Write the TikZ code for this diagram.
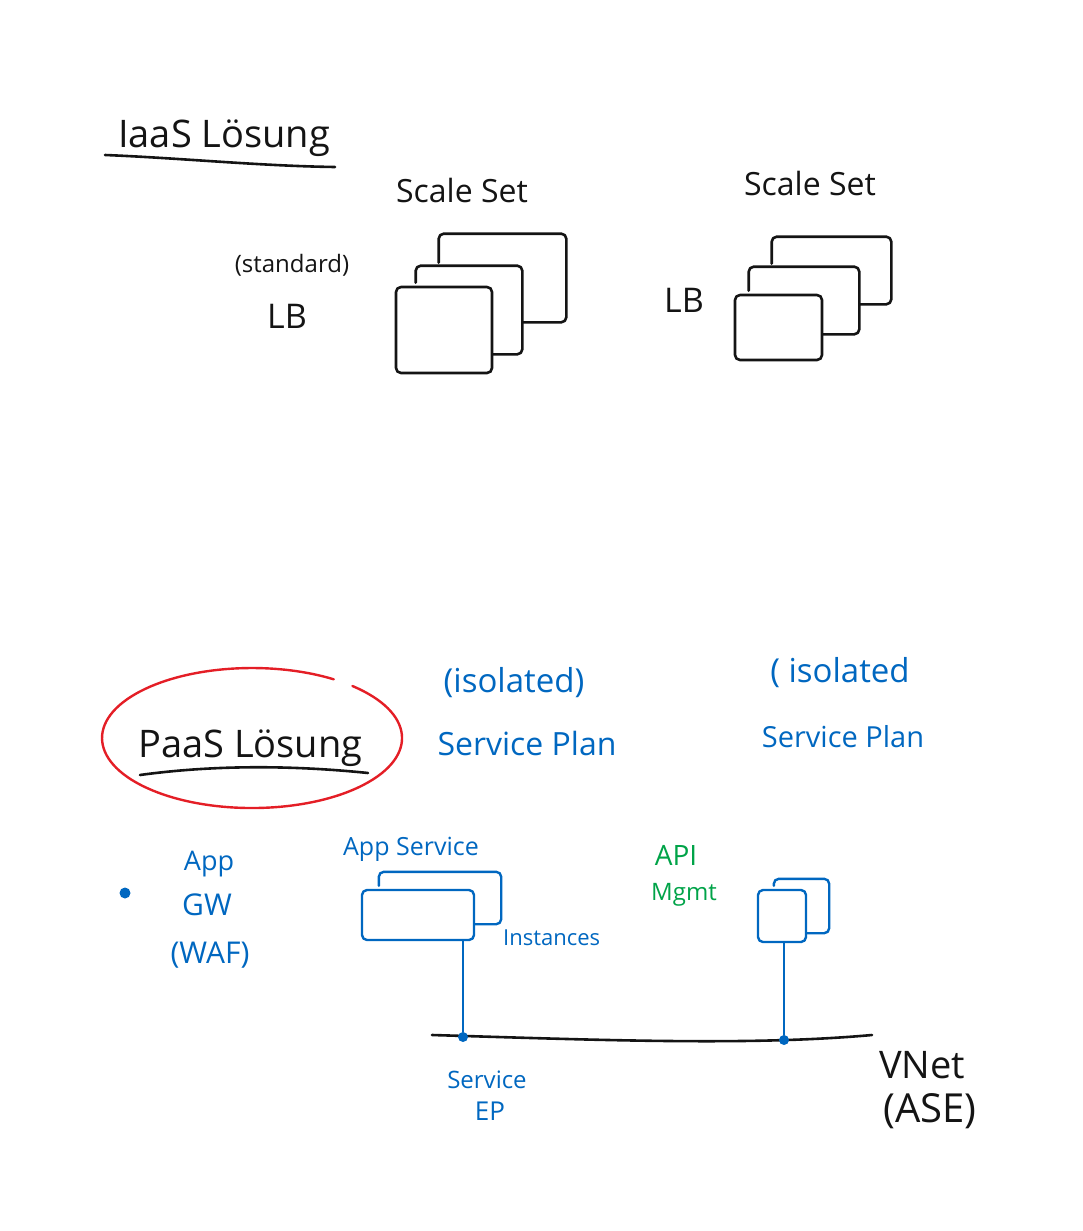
\documentclass[tikz,border=0pt]{standalone}
\usepackage{fontspec}
\setmainfont{Open Sans}
\usetikzlibrary{positioning}

\definecolor{ink}{RGB}{20,20,20}
\definecolor{inkblue}{RGB}{0,103,192}
\definecolor{inkgreen}{RGB}{0,163,72}
\definecolor{inkred}{RGB}{228,30,38}

% back frames of a stacked box: node, left dx, right dx, dy, previous right dx, previous dy
\newcommand{\stackframe}[7][pen]{%
  \draw[#1, rounded corners=5pt]
    ([shift={(#3,-#7-3)}]#2.north west) -- ([shift={(#3,-#5)}]#2.north west)
    -- ([shift={(#4,-#5)}]#2.north east) -- ([shift={(#4,-#5)}]#2.south east)
    -- ([shift={(#6,-#5)}]#2.south east);}

\begin{document}
\begin{tikzpicture}[x=1pt, y=-1pt, line cap=round, line join=round,
    every node/.style={inner sep=0pt, text=ink},
    txt/.style={font=\fontsize{#1}{#1}\selectfont},
    txt/.default=28pt,
    bluetext/.style={text=inkblue},
    greentext/.style={text=inkgreen},
    pen/.style={draw=ink, line width=2.6pt},
    bluepen/.style={draw=inkblue, line width=2.4pt},
    redpen/.style={draw=inkred, line width=2.4pt},
    vmbox/.style={#1, rounded corners=5pt},
    vmbox/.default=pen,
    dot/.style={circle, fill=inkblue, minimum size=10pt}]
  \useasboundingbox (0,0) rectangle (1083,1231);

  % IaaS heading
  \node[txt=38pt, anchor=base west] (iaas) at (118,147) {IaaS Lösung};
  \draw[pen] (105,155) .. controls (180,158) and (260,166) .. (335,167);

  % Scale Set behind standard LB
  \node[txt=32pt, anchor=base] (ss1) at (462,202) {Scale Set};
  \node[txt=24pt, anchor=base] (std) at (292,272) {(standard)};
  \node[txt=34pt, anchor=base] (lb1) at ([xshift=-5pt, yshift=-56pt]std.base) {LB};
  \node[vmbox, minimum width=96pt, minimum height=86pt] (vm1) at (444,330) {};
  \stackframe{vm1}{21}{29}{20}{0}{0}
  \stackframe{vm1}{44}{73}{52}{29}{20}

  % Scale Set behind LB
  \node[txt=32pt, anchor=base] (ss2) at (810,195) {Scale Set};
  \node[txt=34pt, anchor=base] (lb2) at (684,312) {LB};
  \node[vmbox, minimum width=87pt, minimum height=65pt] (vm2) at (778.5,327.5) {};
  \stackframe{vm2}{15}{36}{27}{0}{0}
  \stackframe{vm2}{38}{68}{57}{36}{27}

  % PaaS heading
  \coordinate (ring) at (252,738);
  \draw[redpen] (352.4,686) arc[start angle=-48, end angle=303, x radius=150, y radius=70];
  \node[txt=38pt, anchor=base west] (paas) at (138,757) {PaaS Lösung};
  \draw[pen] (140,775) .. controls (220,764) and (300,766) .. (368,773);

  % Service Plans
  \node[txt=33pt, bluetext, anchor=base] (iso1) at (514,692) {(isolated)};
  \node[txt=32pt, bluetext, anchor=base] (plan1) at ([xshift=13pt, yshift=-63pt]iso1.base) {Service Plan};
  \node[txt=33pt, bluetext, anchor=base] (iso2) at (840,682) {( isolated};
  \node[txt=29pt, bluetext, anchor=base] (plan2) at ([xshift=3pt, yshift=-65pt]iso2.base) {Service Plan};

  % App Gateway
  \node[dot, minimum size=11pt] (gwdot) at (125,893) {};
  \node[txt=27pt, bluetext, anchor=base] (app) at (209,870) {App};
  \node[txt=30pt, bluetext, anchor=base] (gw) at (207,915) {GW};
  \node[txt=30pt, bluetext, anchor=base] (waf) at (210,963) {(WAF)};

  % App Service
  \node[txt=25pt, bluetext, anchor=base] (aslbl) at (411,855) {App Service};
  \node[vmbox=bluepen, minimum width=112pt, minimum height=50pt] (as) at (418,915) {};
  \stackframe[bluepen]{as}{18}{26}{17}{0}{0}
  \node[txt=22pt, bluetext, anchor=base west] (inst) at (503,945) {Instances};

  % API Management
  \node[txt=28pt, greentext, anchor=base] (api) at (676,865) {API};
  \node[txt=24pt, greentext, anchor=base] (mgmt) at (684,900) {Mgmt};
  \node[vmbox=bluepen, minimum width=48pt, minimum height=52pt] (apim) at (782,916) {};
  \stackframe[bluepen]{apim}{17}{22}{10}{0}{0}

  % VNet
  \coordinate (vnetL) at (432,1035);
  \coordinate (vnetR) at (872,1035);
  \draw[pen] (vnetL) .. controls (600,1040) and (750,1046) .. (vnetR);
  \node[dot] (sep) at (463,1037) {};
  \node[dot] (apidot) at (784,1040) {};
  \draw[bluepen] (sep) -- (sep |- as.south);
  \draw[bluepen] (apidot) -- (apidot |- apim.south);
  \node[txt=24pt, bluetext, anchor=base] (seplbl) at (487,1088) {Service};
  \node[txt=26pt, bluetext, anchor=base] (ep) at ([xshift=3pt, yshift=-32pt]seplbl.base) {EP};
  \node[txt=38pt, anchor=base] (vnet) at (922,1078) {VNet};
  \node[txt=40pt, anchor=base] (ase) at ([xshift=8pt, yshift=-44pt]vnet.base) {(ASE)};
\end{tikzpicture}
\end{document}
